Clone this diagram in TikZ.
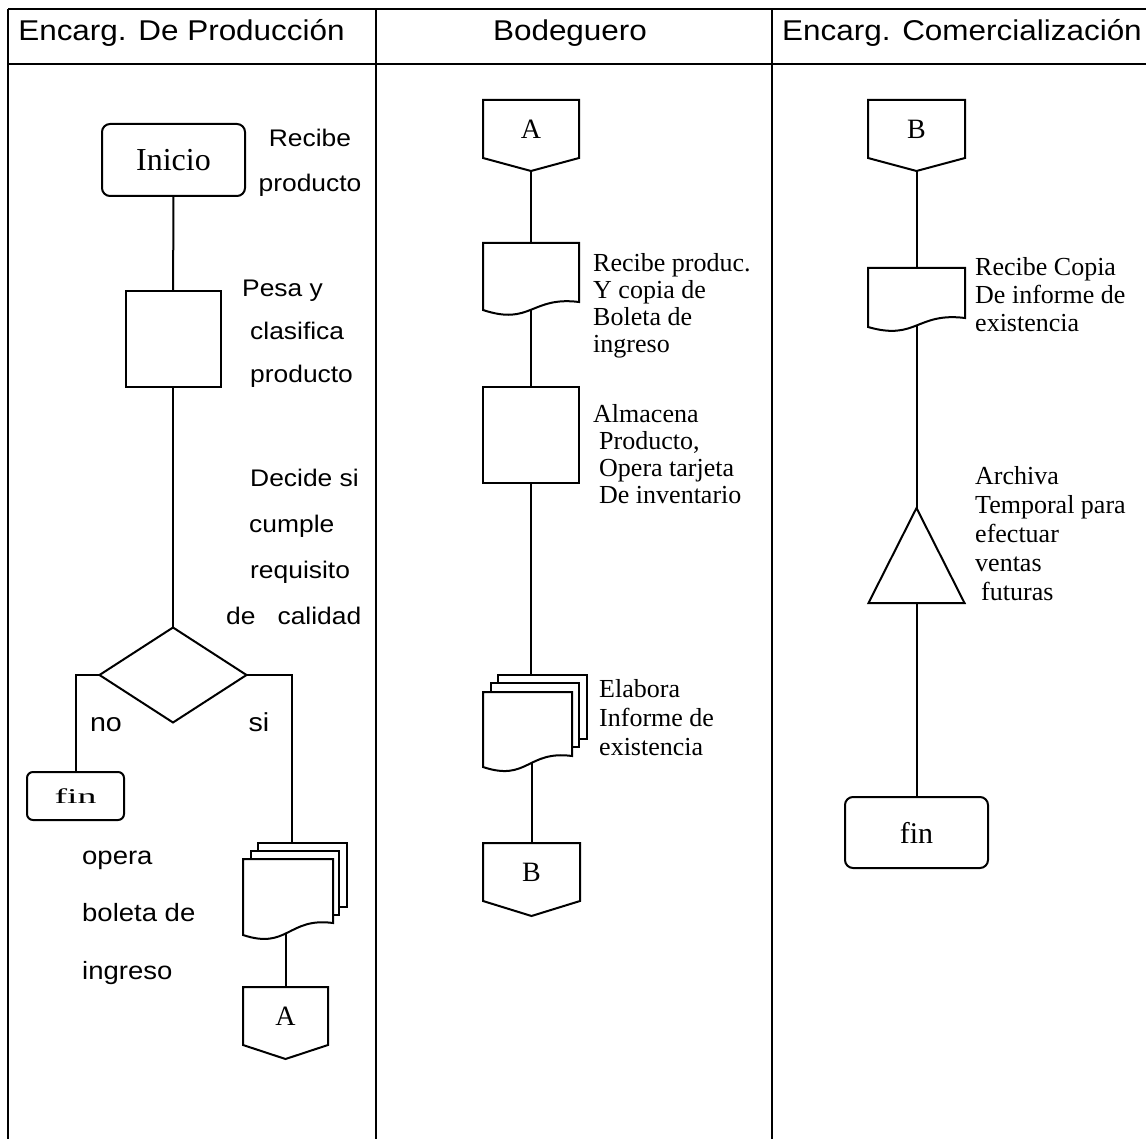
\documentclass[tikz,border=0pt]{standalone}
\usepackage{fontspec}
\setmainfont{Liberation Serif}
\newfontfamily\sansf[FakeStretch=1.1]{Liberation Sans}
\usetikzlibrary{shapes.geometric,calc}
\pgfdeclarelayer{conn}
\pgfdeclarelayer{shpl}
\pgfsetlayers{conn,shpl,main}
\tikzset{
  ln/.style={line width=2pt},
  shp/.style={ln, fill=white},
  tbl/.style={line width=2.6pt},
  term/.style={shp, draw, rounded corners=8pt, inner sep=0pt, outer sep=0pt},
  procbox/.style={shp, draw, inner sep=0pt, outer sep=0pt},
  ghost/.style={inner sep=0pt, outer sep=0pt, draw=none},
  hdr/.style={inner sep=0pt, font=\sansf\fontsize{28.6}{32}\selectfont},
  shapetxt/.style={font=\fontsize{28}{32}\selectfont}
}
\newcommand\wavedoc[4]{\draw[shp] (#1.north west) -- (#1.north east) -- ([yshift=#2]#1.south east)
  .. controls ([yshift=#3]#1.south) and ([yshift=-11pt]#1.south) .. ([yshift=#4]#1.south west) -- cycle;}
\newcommand\offpage[2]{\draw[shp] (#1.north west) -- (#1.north east) -- (#1.south east) -- ([yshift=-#2]#1.south) -- (#1.south west) -- cycle;}
\begin{document}
\begin{tikzpicture}[x=1pt,y=1pt]
\useasboundingbox (0,0) rectangle (1146,-1139);
% table
\draw[tbl] (8,-9) -- (1146,-9);
\draw[tbl] (8,-64) -- (1146,-64);
\draw[tbl] (8,-9) -- (8,-1139);
\draw[tbl] (376,-9) -- (376,-1139);
\draw[tbl] (772,-9) -- (772,-1139);
\node[hdr, anchor=base] (h1) at (181.5,-41) {Encarg. De Producción};
\node[hdr, anchor=base] (h2) at (570,-41) {Bodeguero};
\node[hdr, anchor=base west] (h3) at (782,-41) {Encarg. Comercialización};

% ---- lane 1
\node[term, minimum width=143pt, minimum height=72pt, font=\fontsize{32}{36}\selectfont] (ini) at (173.5,-160) {Inicio};
\node[procbox, minimum width=95pt, minimum height=96pt] (pesa) at (173,-339) {};
\node[shp, draw, diamond, minimum width=147pt, minimum height=95pt, inner sep=0pt, outer sep=0pt] (dia) at (173,-675) {};
\node[term, rounded corners=6pt, minimum width=97pt, minimum height=48pt, font=\fontsize{21}{24}\selectfont] (fin1) at (75.5,-796) {\raisebox{-3pt}{\scalebox{1.8}[1]{fin}}};
\node[ghost, minimum width=89pt, minimum height=64pt] (md1b) at (302.5,-875) {};
\node[ghost, minimum width=88pt, minimum height=64pt] (md1m) at (295,-883) {};
\node[ghost, minimum width=90pt, minimum height=80pt] (md1) at (288,-899) {};
\node[ghost, minimum width=85pt, minimum height=58pt, shapetxt] (A1) at (285.5,-1016) {A};

% ---- lane 2
\node[ghost, minimum width=96pt, minimum height=58pt, shapetxt] (A2) at (531,-129) {A};
\node[ghost, minimum width=96pt, minimum height=72pt] (doc2) at (531,-279) {};
\node[procbox, minimum width=96pt, minimum height=96pt] (alm) at (531,-435) {};
\node[ghost, minimum width=89pt, minimum height=64pt] (md2b) at (542.5,-707) {};
\node[ghost, minimum width=88pt, minimum height=64pt] (md2m) at (535,-715) {};
\node[ghost, minimum width=89pt, minimum height=79pt] (md2) at (527.5,-731.5) {};
\node[ghost, minimum width=97pt, minimum height=58pt, shapetxt] (B2) at (531.5,-872) {B};

% ---- lane 3
\node[ghost, minimum width=97pt, minimum height=58pt, shapetxt] (B3) at (916.5,-129) {B};
\node[ghost, minimum width=97pt, minimum height=62pt] (doc3) at (916.5,-299) {};
\node[ghost, minimum width=96pt, minimum height=95pt] (tri) at (916.5,-555.5) {};
\node[term, minimum width=143pt, minimum height=71pt, font=\fontsize{30}{34}\selectfont] (fin3) at (916.5,-832.5) {fin};

% custom shapes
\begin{pgfonlayer}{shpl}
\draw[shp] (md1b.north west) rectangle (md1b.south east);
\draw[shp] (md1m.north west) rectangle (md1m.south east);
\wavedoc{md1}{16pt}{22pt}{4pt}
\offpage{A1}{14pt}
\offpage{A2}{13pt}
\wavedoc{doc2}{13pt}{19pt}{5pt}
\draw[shp] (md2b.north west) rectangle (md2b.south east);
\draw[shp] (md2m.north west) rectangle (md2m.south east);
\wavedoc{md2}{15pt}{21pt}{4pt}
\offpage{B2}{15pt}
\offpage{B3}{13pt}
\wavedoc{doc3}{12pt}{18pt}{3pt}
\draw[shp] (tri.north) -- (tri.south east) -- (tri.south west) -- cycle;
\end{pgfonlayer}

% connectors
\begin{pgfonlayer}{conn}
\draw[ln] (ini.center) -- (pesa.center);
\draw[ln] (pesa.center) -- (dia.center);
\draw[ln] (dia.west) -| (fin1.center);
\draw[ln] (dia.east) -| ($(md1b.center)+(-10.5,0)$);
\draw[ln] (A1.center) -- (A1.center |- md1.center);
\draw[ln] (A2.center) -- (doc2.center);
\draw[ln] (doc2.center) -- (alm.center);
\draw[ln] (alm.center) -- (alm.center |- md2b.center);
\draw[ln] (B2.center) -- (B2.center |- md2.center);
\draw[ln] (B3.center) -- (doc3.center);
\draw[ln] (doc3.center) -- (tri.center);
\draw[ln] (tri.center) -- (fin3.center);
\end{pgfonlayer}

% sans labels (anchor = baseline of last line)
\node[inner sep=0pt, align=center, anchor=base, font=\sansf\fontsize{24}{45}\selectfont] (lrec) at (310,-192) {Recibe\\producto};
\node[inner sep=0pt, align=left, anchor=base west, font=\sansf\fontsize{24}{43}\selectfont] (lpesa) at (242,-383) {Pesa y\\\hspace*{8pt}clasifica\\\hspace*{8pt}producto};
\node[inner sep=0pt, align=left, anchor=base west, font=\sansf\fontsize{24}{46}\selectfont] (ldec) at (226,-624) {\hspace*{24pt}Decide si\\\hspace*{23pt}cumple\\\hspace*{24pt}requisito\\de\ \ \ calidad};
\node[inner sep=0pt, anchor=base, font=\sansf\fontsize{26}{28}\selectfont] (lno) at (106,-731) {no};
\node[inner sep=0pt, anchor=base, font=\sansf\fontsize{26}{28}\selectfont] (lsi) at (259,-731) {si};
\node[inner sep=0pt, align=left, anchor=base west, font=\sansf\fontsize{25}{57.5}\selectfont] (lope) at (82,-979) {opera\\boleta de\\ingreso};

% serif labels
\node[inner sep=0pt, align=left, anchor=base west, font=\fontsize{26}{27}\selectfont] (lrp) at (593,-353) {Recibe produc.\\Y copia de\\Boleta de\\ingreso};
\node[inner sep=0pt, align=left, anchor=base west, font=\fontsize{26}{27}\selectfont] (lalm) at (593,-503) {Almacena\\\hspace*{6pt}Producto,\\\hspace*{6pt}Opera tarjeta\\\hspace*{6pt}De inventario};
\node[inner sep=0pt, align=left, anchor=base west, font=\fontsize{26}{29}\selectfont] (lela) at (599,-755) {Elabora\\Informe de\\existencia};
\node[inner sep=0pt, align=left, anchor=base west, font=\fontsize{26}{28}\selectfont] (lrc) at (975,-332) {Recibe Copia\\De informe de\\existencia};
\node[inner sep=0pt, align=left, anchor=base west, font=\fontsize{26}{29}\selectfont] (larc) at (975,-600) {Archiva\\Temporal para\\efectuar\\ventas\\\hspace*{6pt}futuras};
\end{tikzpicture}
\end{document}
